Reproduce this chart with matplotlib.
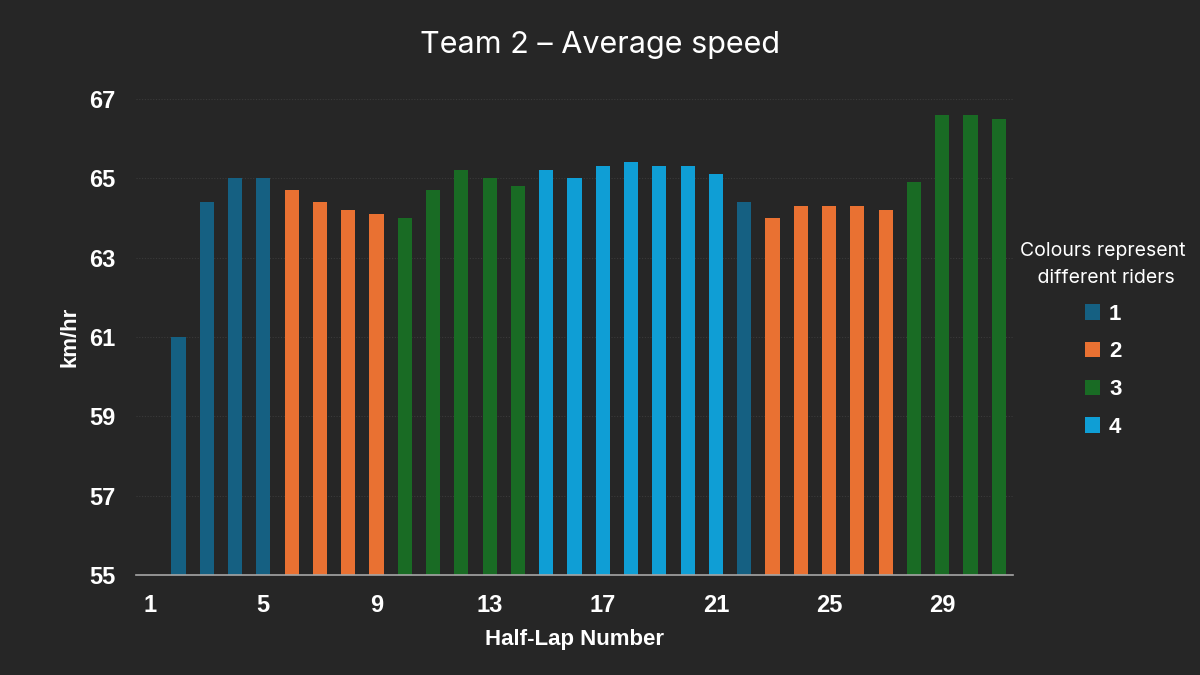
import matplotlib.pyplot as plt
from matplotlib.patches import Patch

# half-lap numbers and average speed (km/hr); lap 1 has no value
laps = list(range(1, 32))
speeds = [None, 61.0, 64.4, 65.0, 65.0, 64.7, 64.4, 64.2, 64.1, 64.0,
          64.7, 65.2, 65.0, 64.8, 65.2, 65.0, 65.3, 65.4, 65.3, 65.3,
          65.1, 64.4, 64.0, 64.3, 64.3, 64.3, 64.2, 64.9, 66.6, 66.6, 66.5]
riders = [None, 1, 1, 1, 1, 2, 2, 2, 2, 3,
          3, 3, 3, 3, 4, 4, 4, 4, 4, 4,
          4, 1, 2, 2, 2, 2, 2, 3, 3, 3, 3]
rider_names = ["1", "2", "3", "4"]
rider_colors = {1: "#156082", 2: "#E97132", 3: "#196B24", 4: "#0F9ED5"}
xticks = [1, 5, 9, 13, 17, 21, 25, 29]
yticks = [55, 57, 59, 61, 63, 65, 67]

bg = "#262626"
bold_font = ["Liberation Sans", "DejaVu Sans"]
plt.rcParams["font.family"] = ["Inter", "DejaVu Sans"]

fig = plt.figure(figsize=(12, 6.75), dpi=100, facecolor=bg)
ax = fig.add_axes([136 / 1200, 100 / 675, 877 / 1200, 476 / 675])
ax.set_facecolor(bg)

ymin = yticks[0]
for lap, v, r in zip(laps, speeds, riders):
    if v is None:
        continue
    ax.bar(lap, v - ymin, bottom=ymin, width=0.5, color=rider_colors[r], zorder=3)

ax.set_xlim(0.5, 31.5)
ax.set_ylim(yticks[0], yticks[-1])
ax.set_xticks(xticks)
ax.set_yticks(yticks)
ax.tick_params(length=0, colors="white", labelsize=17)
ax.tick_params(axis="x", pad=14)
ax.tick_params(axis="y", pad=15)
for lbl in ax.get_xticklabels() + ax.get_yticklabels():
    lbl.set_fontweight("bold")
    lbl.set_family(bold_font)

ax.grid(axis="y", color="#3a3a3a", linestyle=(0, (1, 1.5)), linewidth=0.8, zorder=0)
for s in ["top", "right", "left"]:
    ax.spines[s].set_visible(False)
ax.spines["bottom"].set_color("#a6a6a6")
ax.spines["bottom"].set_linewidth(1.2)
ax.spines["bottom"].set_zorder(4)

ax.set_xlabel("Half-Lap Number", color="white", fontsize=16, fontweight="bold",
              family=bold_font, labelpad=8)
ax.set_ylabel("km/hr", color="white", fontsize=16, fontweight="bold",
              family=bold_font, labelpad=6)
fig.text(0.5, 1 - 45 / 675, "Team 2 \u2013 Average speed", color="white",
         fontsize=22, ha="center", va="center")

handles = [Patch(facecolor=rider_colors[i + 1], label=n) for i, n in enumerate(rider_names)]
leg = ax.legend(handles=handles, title="Colours represent\n different riders",
                loc="upper center", bbox_to_anchor=(1103 / 1200, 1 - 222 / 675),
                bbox_transform=fig.transFigure, frameon=False,
                handlelength=0.7, handleheight=0.7, handletextpad=0.4,
                labelspacing=0.75, prop={"size": 16, "weight": "bold", "family": bold_font},
                title_fontproperties={"size": 14})
leg.get_title().set_color("white")
leg.get_title().set_multialignment("center")
leg.get_title().set_linespacing(1.65)
for t in leg.get_texts():
    t.set_color("white")

fig.savefig("out.png", dpi=100, facecolor=bg)
